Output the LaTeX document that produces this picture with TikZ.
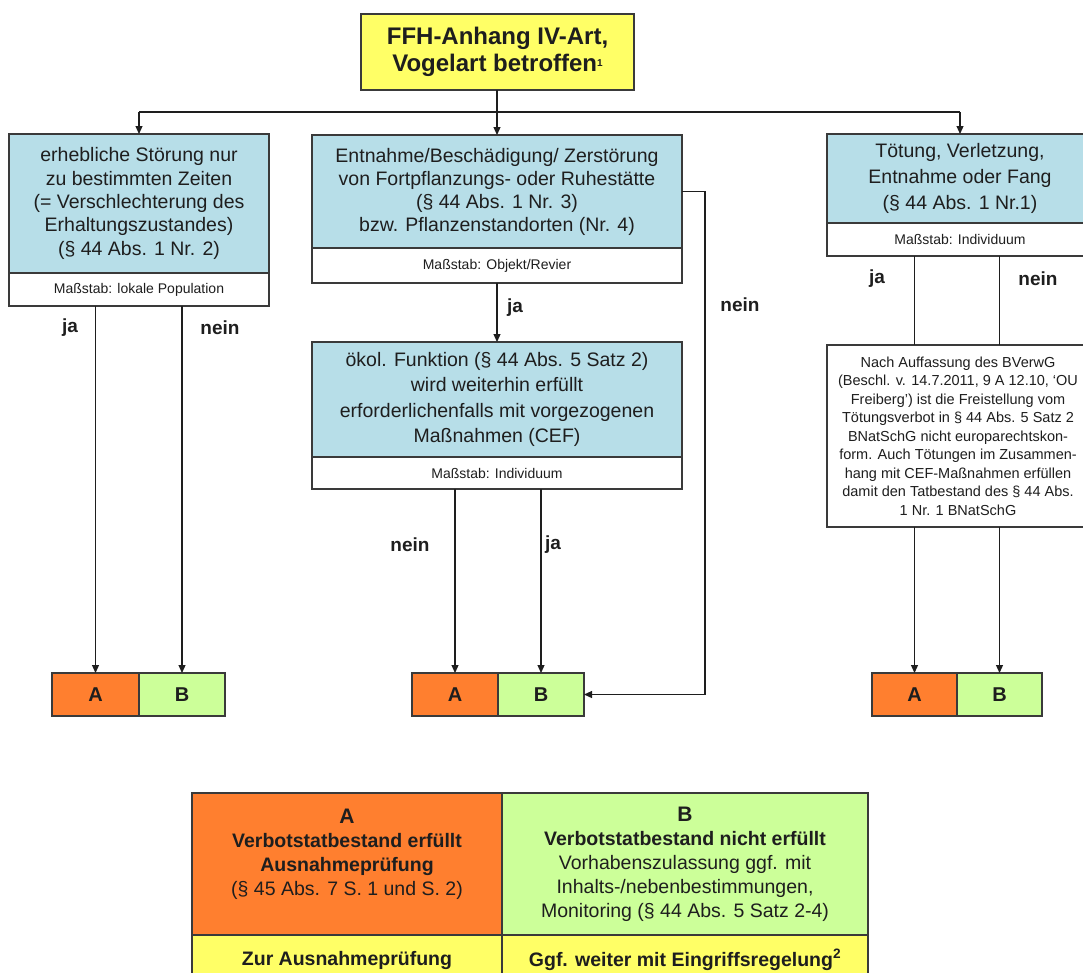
\documentclass[tikz,border=0pt]{standalone}
\usepackage{fontspec}
\setmainfont{Liberation Sans}
\usetikzlibrary{arrows.meta}
\definecolor{teal1}{HTML}{B7DEE8}
\definecolor{orangeA}{HTML}{FF7F2F}
\definecolor{greenB}{HTML}{CCFF99}
\definecolor{yel}{HTML}{FFFF66}
\definecolor{bord}{HTML}{3A3A3A}
\definecolor{txt}{HTML}{1E1E1E}
\begin{document}
\begin{tikzpicture}[x=1pt,y=-1pt,
  box/.style={draw=bord, line width=1.1pt, inner sep=0pt, outer sep=0pt, align=center, anchor=north west, text=txt},
  tealbox/.style={box, fill=teal1, font=\fontsize{19.5}{23.3}\selectfont},
  scalebox/.style={box, fill=white, font=\fontsize{14}{16}\selectfont},
  abox/.style={box, fill=orangeA, minimum height=43pt, font=\fontsize{20}{24}\selectfont\bfseries},
  bbox/.style={box, fill=greenB, minimum height=43pt, font=\fontsize{20}{24}\selectfont\bfseries},
  lab/.style={font=\fontsize{19}{22}\selectfont\bfseries, text=txt, inner sep=0pt},
  conn/.style={draw=txt, line width=1.2pt},
  arr/.style={conn, -{Triangle[length=8pt,width=7pt]}}]
\useasboundingbox (0,0) rectangle (1083,972);
\clip (0,0) rectangle (1083,972);

% top box
\node[box, fill=yel, minimum width=273pt, minimum height=76pt, font=\fontsize{24}{27.5}\selectfont\bfseries] (T) at (361,14)
  {FFH-Anhang IV-Art,\\Vogelart betroffen\raisebox{0.45ex}{\fontsize{10}{10}\selectfont 1}};

% left branch
\node[tealbox, minimum width=260pt, minimum height=139pt] (L) at (9,134)
  {erhebliche Störung nur\\zu bestimmten Zeiten\\(= Verschlechterung des\\Erhaltungszustandes)\\(§ 44 Abs. 1 Nr. 2)};
\node[scalebox, minimum width=260pt, minimum height=33pt] (Lm) at (9,273) {Maßstab: lokale Population};

% middle branch
\node[tealbox, font=\fontsize{19.5}{23}\selectfont, minimum width=370pt, minimum height=113pt] (M) at (312,135)
  {Entnahme/Beschädigung/ Zerstörung\\von Fortpflanzungs- oder Ruhestätte\\(§ 44 Abs. 1 Nr. 3)\\bzw. Pflanzenstandorten (Nr. 4)};
\node[scalebox, minimum width=370pt, minimum height=35pt] (Mm) at (312,248) {Maßstab: Objekt/Revier};

\node[tealbox, font=\fontsize{19.5}{25.3}\selectfont, minimum width=370pt, minimum height=115pt] (O) at (312,342)
  {ökol. Funktion (§ 44 Abs. 5 Satz 2)\\wird weiterhin erfüllt\\erforderlichenfalls mit vorgezogenen\\Maßnahmen (CEF)};
\node[scalebox, minimum width=370pt, minimum height=32pt] (Om) at (312,457) {Maßstab: Individuum};

% right branch
\node[tealbox, font=\fontsize{19.5}{26}\selectfont, minimum width=266pt, minimum height=89pt] (R) at (827,134)
  {Tötung, Verletzung,\\Entnahme oder Fang\\(§ 44 Abs. 1 Nr.1)};
\node[scalebox, minimum width=266pt, minimum height=33pt] (Rm) at (827,223) {Maßstab: Individuum};

\node[box, fill=white, minimum width=262pt, minimum height=182pt, font=\fontsize{14.5}{18.5}\selectfont] (N) at (827,345)
  {Nach Auffassung des BVerwG\\(Beschl. v. 14.7.2011, 9 A 12.10, `OU\\Freiberg') ist die Freistellung vom\\Tötungsverbot in § 44 Abs. 5 Satz 2\\BNatSchG nicht europarechtskon-\\form. Auch Tötungen im Zusammen-\\hang mit CEF-Maßnahmen erfüllen\\damit den Tatbestand des § 44 Abs.\\1 Nr. 1 BNatSchG};

% A/B boxes
\node[abox, minimum width=87pt] (A1) at (52,673) {A};
\node[bbox, minimum width=86pt] (B1) at (139,673) {B};
\node[abox, minimum width=86pt] (A2) at (412,673) {A};
\node[bbox, minimum width=86pt] (B2) at (498,673) {B};
\node[abox, minimum width=85pt] (A3) at (872,673) {A};
\node[bbox, minimum width=85pt] (B3) at (957,673) {B};

% connectors
\coordinate (hl) at (497,112);
\draw[arr] (M.north |- T.south) -- (M.north);
\draw[conn] (hl -| L.north) -- (hl -| R.north);
\draw[arr] (hl -| L.north) -- (L.north);
\draw[arr] (hl -| R.north) -- (R.north);

\draw[arr] (A1.north |- Lm.south) -- (A1.north);
\draw[arr] (B1.north |- Lm.south) -- (B1.north);

\draw[arr] (Mm.south) -- (O.north);
\draw[arr] (A2.north |- Om.south) -- (A2.north);
\draw[arr] (B2.north |- Om.south) -- (B2.north);
\coordinate (nc) at (705,694.5);
\draw[arr] (M.east) -| (nc) -- (B2.east);

\draw[conn] (A3.north |- Rm.south) -- (A3.north |- N.north);
\draw[conn] (B3.north |- Rm.south) -- (B3.north |- N.north);
\draw[arr] (A3.north |- N.south) -- (A3.north);
\draw[arr] (B3.north |- N.south) -- (B3.north);

% labels
\node[lab] (jaL) at (70,328) {ja};
\node[lab] (neinL) at (220,328) {nein};
\node[lab] (jaM) at (515,308) {ja};
\node[lab] (neinM) at (740,305) {nein};
\node[lab] (neinO) at (410,545) {nein};
\node[lab] (jaO) at (553,545) {ja};
\node[lab] (jaR) at (877,279) {ja};
\node[lab] (neinR) at (1038,279) {nein};

% legend
\node[box, fill=orangeA, minimum width=310pt, minimum height=142pt, font=\fontsize{19.5}{24}\selectfont] (LA) at (192,793)
  {{\fontsize{21}{24}\selectfont\bfseries A}\\\textbf{Verbotstatbestand erfüllt}\\\textbf{Ausnahmeprüfung}\\(§ 45 Abs. 7 S. 1 und S. 2)\\\mbox{}};
\node[box, fill=greenB, minimum width=366pt, minimum height=142pt, font=\fontsize{19.5}{24}\selectfont] (LB) at (502,793)
  {{\fontsize{21}{24}\selectfont\bfseries B}\\\textbf{Verbotstatbestand nicht erfüllt}\\Vorhabenszulassung ggf. mit\\Inhalts-/nebenbestimmungen,\\Monitoring (§ 44 Abs. 5 Satz 2-4)};
\node[box, fill=yel, minimum width=310pt, minimum height=50pt, font=\fontsize{19.5}{24}\selectfont\bfseries] (LC) at (192,935)
  {Zur Ausnahmeprüfung};
\node[box, fill=yel, minimum width=366pt, minimum height=50pt, font=\fontsize{19.5}{24}\selectfont\bfseries] (LD) at (502,935)
  {Ggf. weiter mit Eingriffsregelung\textsuperscript{2}};
\end{tikzpicture}
\end{document}
